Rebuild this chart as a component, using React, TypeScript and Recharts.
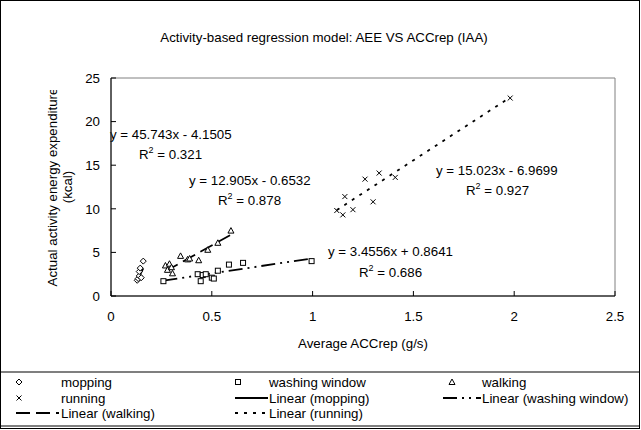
import React from 'react';
import { ScatterChart, Scatter, XAxis, YAxis, ReferenceArea, Customized } from 'recharts';

// axis ticks
const xTicks = [0, 0.5, 1, 1.5, 2, 2.5];
const yTicks = [0, 5, 10, 15, 20, 25];

const mopping = [
  { x: 0.13, y: 1.8 },
  { x: 0.135, y: 2.0 },
  { x: 0.14, y: 2.3 },
  { x: 0.14, y: 2.8 },
  { x: 0.145, y: 3.2 },
  { x: 0.15, y: 2.1 },
  { x: 0.16, y: 4.0 },
];
const washingWindow = [
  { x: 0.26, y: 1.7 },
  { x: 0.43, y: 2.5 },
  { x: 0.445, y: 1.7 },
  { x: 0.455, y: 2.4 },
  { x: 0.47, y: 2.5 },
  { x: 0.5, y: 2.1 },
  { x: 0.51, y: 2.0 },
  { x: 0.53, y: 2.9 },
  { x: 0.585, y: 3.6 },
  { x: 0.655, y: 3.8 },
  { x: 0.995, y: 4.0 },
];
const walking = [
  { x: 0.27, y: 3.5 },
  { x: 0.28, y: 3.0 },
  { x: 0.29, y: 3.7 },
  { x: 0.3, y: 3.3 },
  { x: 0.305, y: 2.6 },
  { x: 0.345, y: 4.6 },
  { x: 0.38, y: 4.2 },
  { x: 0.39, y: 4.3 },
  { x: 0.435, y: 4.1 },
  { x: 0.48, y: 5.3 },
  { x: 0.53, y: 6.1 },
  { x: 0.595, y: 7.5 },
];
const running = [
  { x: 1.12, y: 9.8 },
  { x: 1.15, y: 9.3 },
  { x: 1.16, y: 11.4 },
  { x: 1.2, y: 9.9 },
  { x: 1.26, y: 13.4 },
  { x: 1.3, y: 10.8 },
  { x: 1.33, y: 14.1 },
  { x: 1.41, y: 13.6 },
  { x: 1.98, y: 22.7 },
];

// trendline coefficients [slope, intercept] as printed on the chart
const moppingFit = [45.743, -4.1505];
const washingFit = [3.4556, 0.8641];
const walkingFit = [12.905, -0.6532];
const runningFit = [15.023, -6.9699];

const font = '"Liberation Sans", Arial, sans-serif';
const fs = 13.3;

const fitLine = (pts: { x: number; y: number }[], fit: number[]) => {
  const xs = pts.map((p) => p.x);
  const lo = Math.min(...xs);
  const hi = Math.max(...xs);
  return [
    { x: lo, y: fit[0] * lo + fit[1] },
    { x: hi, y: fit[0] * hi + fit[1] },
  ];
};

const Diamond = ({ cx, cy }: any) => (
  <path d={`M${cx},${cy - 3}L${cx + 3},${cy}L${cx},${cy + 3}L${cx - 3},${cy}Z`} fill="#fff" stroke="#000" strokeWidth={1} />
);
const Square = ({ cx, cy }: any) => (
  <rect x={cx - 2.5} y={cy - 2.5} width={5} height={5} fill="#fff" stroke="#000" strokeWidth={1} />
);
const Triangle = ({ cx, cy }: any) => (
  <path d={`M${cx},${cy - 3}L${cx + 3},${cy + 2.5}L${cx - 3},${cy + 2.5}Z`} fill="#fff" stroke="#000" strokeWidth={1} />
);
const Cross = ({ cx, cy }: any) => (
  <path d={`M${cx - 2.5},${cy - 2.5}L${cx + 2.5},${cy + 2.5}M${cx + 2.5},${cy - 2.5}L${cx - 2.5},${cy + 2.5}`} stroke="#000" strokeWidth={1} />
);
const NoDot = () => <g />;

const lw = 1.8;
const washDash = '14 5 2 5 2 5';
const walkDash = '14 6';
const runDash = '3 6';

const R2 = ({ x, y, v }: { x: number; y: number; v: string }) => (
  <text x={x} y={y}>
    R<tspan dy={-6} fontSize={9}>2</tspan>
    <tspan dy={6}> = {v}</tspan>
  </text>
);

const Labels = () => (
  <g fontFamily={font} fill="#000">
    <defs>
      <clipPath id="ytitle">
        <rect x={0} y={90} width={100} height={300} />
      </clipPath>
    </defs>
    <rect x={0.5} y={0.5} width={639} height={428} fill="none" stroke="#000" />
    <text x={324} y={42} fontSize={fs} textAnchor="middle">
      Activity-based regression model:  AEE VS ACCrep (IAA)
    </text>
    <g clipPath="url(#ytitle)">
      <text transform="translate(57,187) rotate(-90)" fontSize={fs} textAnchor="middle">
        Actual activity energy expenditure
      </text>
    </g>
    <text transform="translate(72,187) rotate(-90)" fontSize={fs} textAnchor="middle">
      (kcal)
    </text>
    <text x={363} y={348} fontSize={fs} textAnchor="middle">Average ACCrep (g/s)</text>

    <g fontSize={fs}>
      <text x={110} y={139}>y = 45.743x - 4.1505</text>
      <R2 x={139} y={159} v="0.321" />
      <text x={189} y={185}>y = 12.905x - 0.6532</text>
      <R2 x={218} y={205} v="0.878" />
      <text x={436} y={175}>y = 15.023x - 6.9699</text>
      <R2 x={466} y={195} v="0.927" />
      <text x={328} y={256}>y = 3.4556x + 0.8641</text>
      <R2 x={359} y={277} v="0.686" />
    </g>

    {/* legend */}
    <rect x={0.5} y={372} width={639} height={54} fill="none" stroke="#000" />
    <g fontSize={fs}>
      <Diamond cx={19} cy={382} />
      <text x={61} y={387}>mopping</text>
      <Square cx={238} cy={382} />
      <text x={269} y={387}>washing window</text>
      <Triangle cx={452} cy={382} />
      <text x={482} y={387}>walking</text>

      <Cross cx={19} cy={398} />
      <text x={61} y={403}>running</text>
      <line x1={235} y1={398} x2={268} y2={398} stroke="#000" strokeWidth={lw} />
      <text x={269} y={403}>Linear (mopping)</text>
      <line x1={443} y1={398} x2={481} y2={398} stroke="#000" strokeWidth={lw} strokeDasharray={washDash} />
      <text x={482} y={403}>Linear (washing window)</text>

      <line x1={16} y1={413} x2={59} y2={413} stroke="#000" strokeWidth={lw} strokeDasharray={walkDash} />
      <text x={61} y={418}>Linear (walking)</text>
      <line x1={235} y1={413} x2={268} y2={413} stroke="#000" strokeWidth={lw} strokeDasharray={runDash} />
      <text x={269} y={418}>Linear (running)</text>
    </g>
  </g>
);

export default function App() {
  return (
    <div style={{ position: 'absolute', left: 0, top: 0, background: '#fff' }}>
      <ScatterChart width={641} height={430} margin={{ top: 78, right: 26, bottom: 104, left: 51 }}>
        <ReferenceArea x1={0} x2={2.5} y1={0} y2={25} fill="none" stroke="#808080" ifOverflow="extendDomain" />
        <XAxis
          type="number"
          dataKey="x"
          domain={[0, 2.5]}
          ticks={xTicks}
          interval={0}
          height={30}
          tickSize={-5}
          tickMargin={21}
          axisLine={{ stroke: '#000' }}
          tickLine={{ stroke: '#000' }}
          tick={{ fill: '#000', fontSize: fs, fontFamily: font }}
        />
        <YAxis
          type="number"
          dataKey="y"
          domain={[0, 25]}
          ticks={yTicks}
          interval={0}
          width={60}
          tickSize={-5}
          tickMargin={16}
          axisLine={{ stroke: '#000' }}
          tickLine={{ stroke: '#000' }}
          tick={{ fill: '#000', fontSize: fs, fontFamily: font }}
        />
        <Scatter data={fitLine(mopping, moppingFit)} shape={NoDot} line={{ stroke: '#000', strokeWidth: lw }} isAnimationActive={false} />
        <Scatter data={fitLine(washingWindow, washingFit)} shape={NoDot} line={{ stroke: '#000', strokeWidth: lw, strokeDasharray: washDash }} isAnimationActive={false} />
        <Scatter data={fitLine(walking, walkingFit)} shape={NoDot} line={{ stroke: '#000', strokeWidth: lw, strokeDasharray: walkDash }} isAnimationActive={false} />
        <Scatter data={fitLine(running, runningFit)} shape={NoDot} line={{ stroke: '#000', strokeWidth: lw, strokeDasharray: runDash }} isAnimationActive={false} />
        <Scatter name="mopping" data={mopping} shape={Diamond} isAnimationActive={false} />
        <Scatter name="washing window" data={washingWindow} shape={Square} isAnimationActive={false} />
        <Scatter name="walking" data={walking} shape={Triangle} isAnimationActive={false} />
        <Scatter name="running" data={running} shape={Cross} isAnimationActive={false} />
        <Customized component={Labels} />
      </ScatterChart>
    </div>
  );
}
